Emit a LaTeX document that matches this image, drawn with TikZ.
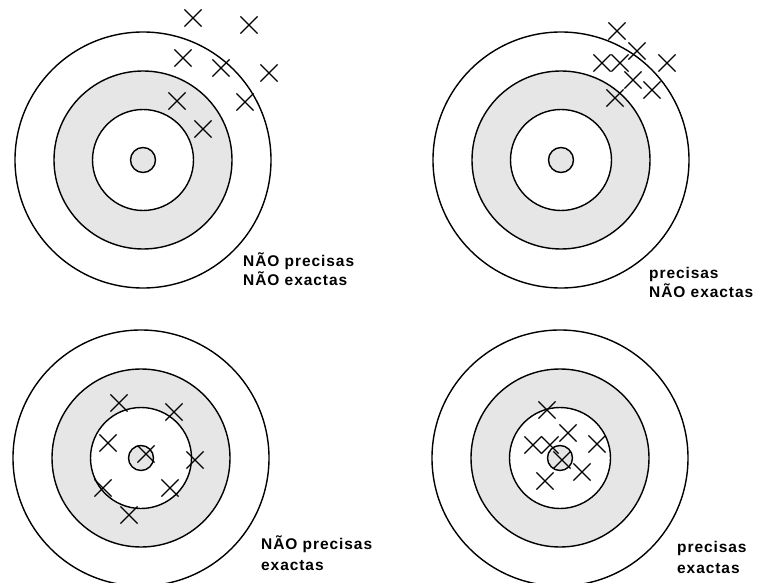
\documentclass[tikz,border=0pt]{standalone}
\usepackage{fontspec}
\usetikzlibrary{shapes.misc}
\newfontfamily\labfont[LetterSpace=6, UprightFont={* Bold}]{Liberation Sans}
\definecolor{ringgray}{RGB}{230,230,230}
\tikzset{
  ring/.style={circle, draw=black, line width=1.4pt, inner sep=0pt, minimum size=#1},
  hit/.style={cross out, draw=black, line width=1.2pt, inner sep=0pt, minimum size=16pt},
  lab/.style={anchor=base west, inner sep=0pt, font=\labfont\fontsize{15.5}{18}\selectfont}
}
\begin{document}
\begin{tikzpicture}[x=1pt,y=-1pt]
\useasboundingbox (0,0) rectangle (764,583);
% targets
\foreach \n/\cx/\cy in {t1/143/160, t2/561/160, t3/141/458, t4/560/458}{
  \node[ring=256pt, fill=white] (\n o) at (\cx,\cy) {};
  \node[ring=178pt, fill=ringgray] (\n g) at (\cx,\cy) {};
  \node[ring=101pt, fill=white] (\n w) at (\cx,\cy) {};
  \node[ring=25pt, fill=ringgray] (\n c) at (\cx,\cy) {};
}
% target 1 hits
\node[hit] (a1) at (193,18) {};
\node[hit] (a2) at (249,25) {};
\node[hit] (a3) at (183,58) {};
\node[hit] (a4) at (221,68) {};
\node[hit] (a5) at (269,73) {};
\node[hit] (a6) at (177,101) {};
\node[hit] (a7) at (245,102) {};
\node[hit] (a8) at (203,129) {};
% target 2 hits
\node[hit] (b1) at (617,31) {};
\node[hit] (b2) at (637,51) {};
\node[hit] (b3) at (602,63) {};
\node[hit] (b4) at (620,63) {};
\node[hit] (b5) at (667,63) {};
\node[hit] (b6) at (633,80) {};
\node[hit] (b7) at (652,90) {};
\node[hit] (b8) at (615,98) {};
% target 3 hits
\node[hit] (c1) at (119,403) {};
\node[hit] (c2) at (174,412) {};
\node[hit] (c3) at (108,443) {};
\node[hit] (c4) at (146,454) {};
\node[hit] (c5) at (195,460) {};
\node[hit] (c6) at (103,488) {};
\node[hit] (c7) at (170,488) {};
\node[hit] (c8) at (129,515) {};
% target 4 hits
\node[hit] (d1) at (547,410) {};
\node[hit] (d2) at (568,433) {};
\node[hit] (d3) at (533,445) {};
\node[hit] (d4) at (550,445) {};
\node[hit] (d5) at (597,444) {};
\node[hit] (d6) at (562,460) {};
\node[hit] (d7) at (582,472) {};
\node[hit] (d8) at (545,481) {};
% labels
\node[lab] (l1a) at (243,266) {NÃO precisas};
\node[lab] (l1b) at (243,286) {NÃO exactas};
\node[lab] (l2a) at (649,279) {precisas};
\node[lab] (l2b) at (649,298) {NÃO exactas};
\node[lab] (l3a) at (261,549) {NÃO precisas};
\node[lab] (l3b) at (261,570) {exactas};
\node[lab] (l4a) at (677,552) {precisas};
\node[lab] (l4b) at (677,573) {exactas};
\end{tikzpicture}
\end{document}
